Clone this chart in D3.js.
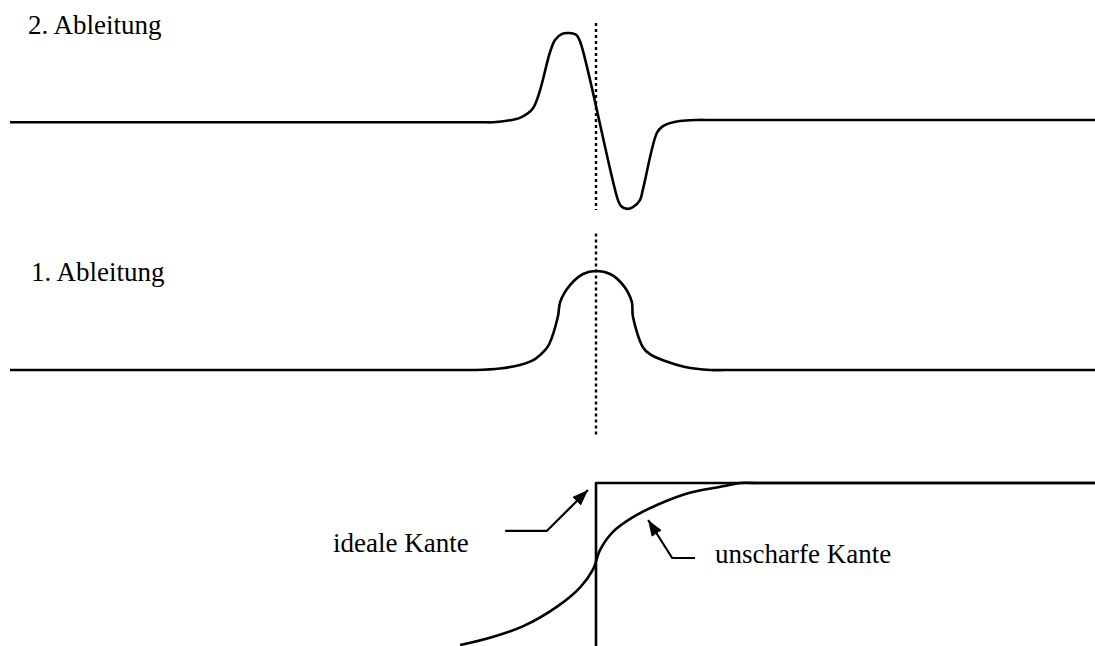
<!DOCTYPE html>
<html>
<head>
<meta charset="utf-8">
<script src="https://cdn.jsdelivr.net/npm/d3@7"></script>
<style>
  html, body { margin: 0; padding: 0; background: #fff; }
  svg { display: block; }
  text { font-family: "Liberation Serif", "Times New Roman", serif; fill: #000; }
</style>
</head>
<body>
<div id="chart"></div>
<script>
// ---- data (x: position relative to edge, y: normalized signal) ----
const labels = ["2. Ableitung", "1. Ableitung", "ideale Kante", "unscharfe Kante"];

const secondDerivX = [-100, -20, -17.6, -15.5, -13.0, -10.75, -7.85, -7.0, -5.8, -4.6, -3.4, -2.7, 3.75, 4.3, 5.3, 6.3, 7.5, 8.0, 10.4, 11.3, 12.6, 14.3, 17.2, 20, 85.2];
const secondDerivY = [-0.02, -0.02, -0.02, -0.005, 0.03, 0.14, 0.78, 0.92, 0.99, 1.0, 0.98, 0.90, -0.91, -0.98, -1.01, -0.99, -0.91, -0.79, -0.14, -0.07, -0.03, -0.005, 0.006, 0.006, 0.006];

const firstDerivX = [-100, -23, -20.6, -16.4, -13.0, -10.4, -8.7, -8.0, -6.5, -6.1, -4.4, -2.2, 0, 2.4, 4.6, 6.1, 6.3, 8.0, 9.2, 11.8, 15.2, 19.5, 22, 85.2];
const firstDerivY = [0, 0, 0, 0.015, 0.05, 0.11, 0.20, 0.26, 0.54, 0.69, 0.86, 0.97, 1.0, 0.97, 0.86, 0.69, 0.54, 0.23, 0.16, 0.09, 0.03, 0, 0, 0];

const idealEdgeX = [0, 0, 85.2];
const idealEdgeY = [-0.02, 1, 1];

const blurEdgeX = [-23.2, -18.1, -12.5, -6.7, -2.7, -0.5, 0.7, 2.9, 6.3, 10.4, 16.0, 21.7, 24.6, 28, 85.2];
const blurEdgeY = [0.006, 0.05, 0.12, 0.24, 0.36, 0.47, 0.59, 0.70, 0.79, 0.865, 0.94, 0.98, 1.0, 1.0, 1.0];

const idealArrowX = [-15.5, -8.4, -1.37];
const idealArrowY = [0.706, 0.706, 0.957];
const blurArrowX = [16.9, 13.0, 8.9];
const blurArrowY = [0.54, 0.54, 0.773];

const guideTopY = [1.114, -1.023];
const guideMidY = [1.38, -0.68];

// ---- layout ----
const W = 1095, H = 646;
const svg = d3.select("#chart").append("svg").attr("width", W).attr("height", H);
svg.append("rect").attr("width", W).attr("height", H).attr("fill", "#fff");

const x = d3.scaleLinear().domain([-100, 100]).range([10, 1182]);
const yTop = d3.scaleLinear().domain([-1, 1]).range([208, 33]);
const yMid = d3.scaleLinear().domain([0, 1]).range([370, 271]);
const yBot = d3.scaleLinear().domain([0, 1]).range([646, 483]);

const zip = (xs, ys) => xs.map((v, i) => [v, ys[i]]);

function drawCurve(xs, ys, yScale, curve) {
  const line = d3.line().x(d => x(d[0])).y(d => yScale(d[1])).curve(curve);
  svg.append("path").attr("d", line(zip(xs, ys)))
    .attr("fill", "none").attr("stroke", "#000").attr("stroke-width", 2.6)
    .attr("stroke-linejoin", "round").attr("stroke-linecap", "butt");
}

// guides
function drawGuide(ys, yScale) {
  svg.append("line")
    .attr("x1", x(0)).attr("x2", x(0))
    .attr("y1", yScale(ys[0])).attr("y2", yScale(ys[1]))
    .attr("stroke", "#000").attr("stroke-width", 2.4).attr("stroke-dasharray", "3,3");
}
drawGuide(guideTopY, yTop);
drawGuide(guideMidY, yMid);

const smooth = d3.curveCatmullRom.alpha(0.5);
drawCurve(secondDerivX, secondDerivY, yTop, smooth);
drawCurve(firstDerivX, firstDerivY, yMid, smooth);
drawCurve(idealEdgeX, idealEdgeY, yBot, d3.curveLinear);
drawCurve(blurEdgeX, blurEdgeY, yBot, smooth);

// arrows
svg.append("defs").append("marker")
  .attr("id", "ah").attr("viewBox", "0 0 16 12").attr("refX", 16).attr("refY", 6)
  .attr("markerWidth", 16).attr("markerHeight", 12).attr("markerUnits", "userSpaceOnUse")
  .attr("orient", "auto")
  .append("path").attr("d", "M0,0 L16,6 L0,12 Z").attr("fill", "#000");

function drawArrow(xs, ys) {
  const line = d3.line().x(d => x(d[0])).y(d => yBot(d[1]));
  svg.append("path").attr("d", line(zip(xs, ys)))
    .attr("fill", "none").attr("stroke", "#000").attr("stroke-width", 2.2)
    .attr("marker-end", "url(#ah)");
}
drawArrow(idealArrowX, idealArrowY);
drawArrow(blurArrowX, blurArrowY);

// labels
const fs = 27;
svg.append("text").attr("x", 28).attr("y", 34).attr("font-size", fs).text(labels[0]);
svg.append("text").attr("x", 31).attr("y", 281).attr("font-size", fs).text(labels[1]);
svg.append("text").attr("x", 333).attr("y", 552).attr("font-size", fs).text(labels[2]);
svg.append("text").attr("x", 715).attr("y", 563).attr("font-size", fs).text(labels[3]);
</script>
</body>
</html>
